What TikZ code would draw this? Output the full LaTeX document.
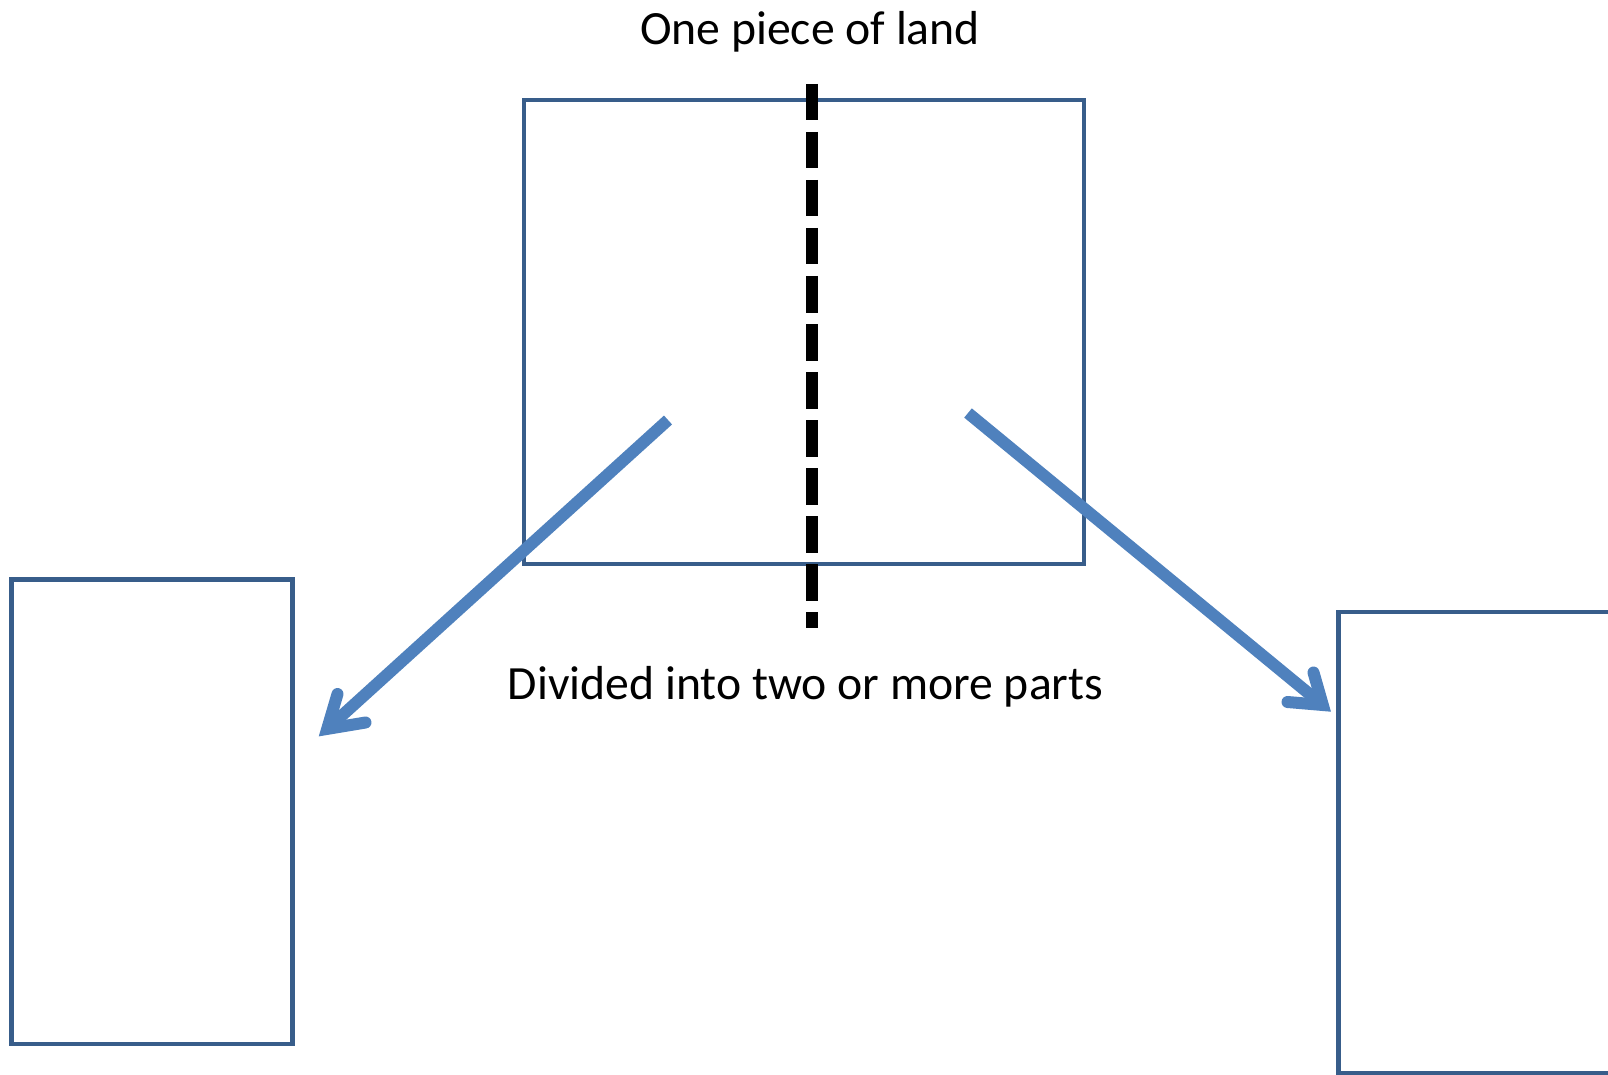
\documentclass[tikz,border=0pt]{standalone}
\usepackage{fontspec}
\setmainfont{Carlito}
\definecolor{boxblue}{HTML}{385D8A}
\definecolor{arrowblue}{HTML}{4F81BD}
\tikzset{
  landbox/.style={draw=boxblue, line width=4.5pt, rectangle, inner sep=0pt, outer sep=0pt},
  cutline/.style={draw=black, line width=12pt, dash pattern=on 36.5pt off 11.5pt},
  shaft/.style={draw=arrowblue, line width=12pt, line cap=butt},
  barb/.style={draw=arrowblue, line width=12pt, line cap=round, line join=miter, miter limit=10},
  caption/.style={inner sep=0pt, font=\fontsize{47.7}{57}\selectfont}
}
\begin{document}
\begin{tikzpicture}[x=1pt,y=-1pt]
\useasboundingbox (0,0) rectangle (1608,1075);
\begin{scope}
\clip (0,0) rectangle (1608,1075);
\node[landbox, minimum width=560pt, minimum height=464pt] (land) at (804,332) {};
\node[landbox, minimum width=281pt, minimum height=464.6pt] (partL) at (151.8,811.7) {};
\node[landbox, minimum width=560pt, minimum height=461.3pt] (partR) at (1618.5,842.6) {};

\coordinate (dtop) at (812,84);
\coordinate (dbot) at (812,628);
\draw[cutline] (dtop) -- (dbot);

\node[caption, anchor=base] (title) at (810,45) {One piece of land};
\node[caption, anchor=base] (divided) at (805.5,699) {Divided into two or more parts};

% left arrow
\coordinate (ls) at (668,420);
\coordinate (lv) at (327.2,728.9);
\coordinate (lb1) at (337.5,694);
\coordinate (lb2) at (365.5,722.5);
\draw[shaft] (ls) -- (lv);
\draw[barb] (lb1) -- (lv) -- (lb2);

% right arrow
\coordinate (rs) at (968,413);
\coordinate (rv) at (1322.8,705);
\coordinate (rb1) at (1313.5,672.5);
\coordinate (rb2) at (1287.5,702);
\draw[shaft] (rs) -- (rv);
\draw[barb] (rb1) -- (rv) -- (rb2);
\end{scope}
\end{tikzpicture}
\end{document}
